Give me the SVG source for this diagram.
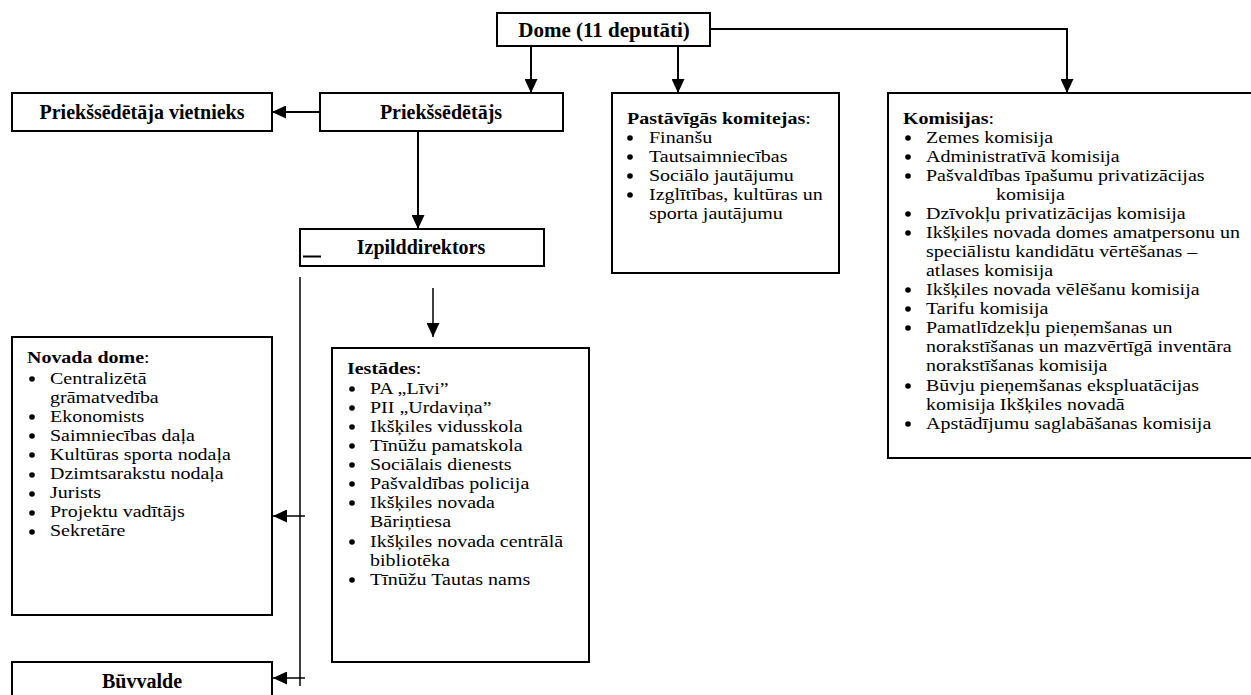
<svg xmlns="http://www.w3.org/2000/svg" width="1251" height="695" viewBox="0 0 1251 695">
<style>
.box{fill:#fff;stroke:#000;stroke-width:2}
.t{font-family:"Liberation Serif","Times New Roman",serif;font-size:20px;fill:#000}
.s{font-family:"Liberation Serif","Times New Roman",serif;font-size:17px;fill:#000}
.b{font-weight:bold}
.c{text-anchor:middle}
.conn{stroke:#000;stroke-width:2;fill:none}
.thin{stroke:#000;stroke-width:1.5;fill:none}
</style>
<defs>
<marker id="ah" markerUnits="userSpaceOnUse" markerWidth="14" markerHeight="13" refX="14" refY="6.5" orient="auto">
<path d="M0,0 L14,6.5 L0,13 z" fill="#000"/>
</marker>
<g id="bul"><circle r="2.8" fill="#000"/></g>
</defs>
<rect width="1251" height="695" fill="#fff"/>

<g id="connectors">
<line class="conn" x1="531" y1="46" x2="531" y2="93" marker-end="url(#ah)"/>
<line class="conn" x1="678" y1="46" x2="678" y2="93" marker-end="url(#ah)"/>
<polyline class="conn" points="710,29 1067,29 1067,93" marker-end="url(#ah)"/>
<line class="conn" x1="320" y1="112" x2="272" y2="112" marker-end="url(#ah)"/>
<line class="conn" x1="418" y1="131" x2="418" y2="229" marker-end="url(#ah)"/>
<line class="thin" x1="433" y1="288" x2="433" y2="337" marker-end="url(#ah)"/>
<line class="thin" x1="300" y1="277" x2="300" y2="686"/>
<line class="thin" x1="305" y1="516" x2="273" y2="516" marker-end="url(#ah)"/>
<line class="thin" x1="305" y1="678" x2="273" y2="678" marker-end="url(#ah)"/>
</g>

<g id="dome">
<rect class="box" x="497" y="13" width="213" height="33"/>
<text class="t b c" x="604" y="37" style="font-size:21px">Dome (11 deputāti)</text>
</g>

<g id="vietnieks">
<rect class="box" x="12" y="93" width="260" height="38"/>
<text class="t b c" x="142" y="119">Priekšsēdētāja vietnieks</text>
</g>

<g id="priekssedetajs">
<rect class="box" x="320" y="93" width="243" height="38"/>
<text class="t b c" x="441" y="119">Priekšsēdētājs</text>
</g>

<g id="pastavigas">
<rect class="box" x="612" y="93" width="227" height="180"/>
<use href="#bul" x="630" y="138"/>
<use href="#bul" x="630" y="157"/>
<use href="#bul" x="630" y="176"/>
<use href="#bul" x="630" y="195"/>
<g transform="translate(649,0) scale(1.176,1)">
<text class="s" x="-18.7" y="124"><tspan class="b">Pastāvīgās komitejas</tspan>:</text>
<text class="s" x="0" y="143">Finanšu</text>
<text class="s" x="0" y="162">Tautsaimniecības</text>
<text class="s" x="0" y="181">Sociālo jautājumu</text>
<text class="s" x="0" y="200">Izglītības, kultūras un</text>
<text class="s" x="0" y="219">sporta jautājumu</text>
</g>
</g>

<g id="komisijas">
<rect class="box" x="888" y="93" width="366" height="365"/>
<use href="#bul" x="908" y="138"/>
<use href="#bul" x="908" y="157"/>
<use href="#bul" x="908" y="176"/>
<use href="#bul" x="908" y="214"/>
<use href="#bul" x="908" y="233"/>
<use href="#bul" x="908" y="290"/>
<use href="#bul" x="908" y="309"/>
<use href="#bul" x="908" y="328"/>
<use href="#bul" x="908" y="386"/>
<use href="#bul" x="908" y="424"/>
<g transform="translate(926,0) scale(1.176,1)">
<text class="s" x="-19.6" y="124"><tspan class="b">Komisijas</tspan>:</text>
<text class="s" x="0" y="143">Zemes komisija</text>
<text class="s" x="0" y="162">Administratīvā komisija</text>
<text class="s" x="0" y="181">Pašvaldības īpašumu privatizācijas</text>
<text class="s" x="59.5" y="200">komisija</text>
<text class="s" x="0" y="219">Dzīvokļu privatizācijas komisija</text>
<text class="s" x="0" y="238">Ikšķiles novada domes amatpersonu un</text>
<text class="s" x="0" y="257">speciālistu kandidātu vērtēšanas –</text>
<text class="s" x="0" y="276">atlases komisija</text>
<text class="s" x="0" y="295">Ikšķiles novada vēlēšanu komisija</text>
<text class="s" x="0" y="314">Tarifu komisija</text>
<text class="s" x="0" y="333">Pamatlīdzekļu pieņemšanas un</text>
<text class="s" x="0" y="352">norakstīšanas un mazvērtīgā inventāra</text>
<text class="s" x="0" y="371">norakstīšanas komisija</text>
<text class="s" x="0" y="391">Būvju pieņemšanas ekspluatācijas</text>
<text class="s" x="0" y="410">komisija Ikšķiles novadā</text>
<text class="s" x="0" y="429">Apstādījumu saglabāšanas komisija</text>
</g>
</g>

<g id="izpilddirektors">
<rect class="box" x="300" y="229" width="244" height="37"/>
<line x1="303" y1="256.5" x2="321" y2="256.5" stroke="#000" stroke-width="2"/>
<text class="t b c" x="421" y="254">Izpilddirektors</text>
</g>

<g id="novada-dome">
<rect class="box" x="12" y="337" width="260" height="278"/>
<use href="#bul" x="32" y="379"/>
<use href="#bul" x="32" y="417"/>
<use href="#bul" x="32" y="436"/>
<use href="#bul" x="32" y="455"/>
<use href="#bul" x="32" y="475"/>
<use href="#bul" x="32" y="494"/>
<use href="#bul" x="32" y="513"/>
<use href="#bul" x="32" y="532"/>
<g transform="translate(50,0) scale(1.176,1)">
<text class="s" x="-19.6" y="363"><tspan class="b">Novada dome</tspan>:</text>
<text class="s" x="0" y="384">Centralizētā</text>
<text class="s" x="0" y="403">grāmatvedība</text>
<text class="s" x="0" y="422">Ekonomists</text>
<text class="s" x="0" y="441">Saimniecības daļa</text>
<text class="s" x="0" y="460">Kultūras sporta nodaļa</text>
<text class="s" x="0" y="479">Dzimtsarakstu nodaļa</text>
<text class="s" x="0" y="498">Jurists</text>
<text class="s" x="0" y="517">Projektu vadītājs</text>
<text class="s" x="0" y="536">Sekretāre</text>
</g>
</g>

<g id="iestades">
<rect class="box" x="332" y="348" width="257" height="314"/>
<use href="#bul" x="352" y="389"/>
<use href="#bul" x="352" y="408"/>
<use href="#bul" x="352" y="427"/>
<use href="#bul" x="352" y="446"/>
<use href="#bul" x="352" y="465"/>
<use href="#bul" x="352" y="484"/>
<use href="#bul" x="352" y="503"/>
<use href="#bul" x="352" y="542"/>
<use href="#bul" x="352" y="580"/>
<g transform="translate(370,0) scale(1.176,1)">
<text class="s" x="-19.6" y="374"><tspan class="b">Iestādes</tspan>:</text>
<text class="s" x="0" y="394">PA „Līvi”</text>
<text class="s" x="0" y="413">PII „Urdaviņa”</text>
<text class="s" x="0" y="432">Ikšķiles vidusskola</text>
<text class="s" x="0" y="451">Tīnūžu pamatskola</text>
<text class="s" x="0" y="470">Sociālais dienests</text>
<text class="s" x="0" y="489">Pašvaldības policija</text>
<text class="s" x="0" y="508">Ikšķiles novada</text>
<text class="s" x="0" y="527">Bāriņtiesa</text>
<text class="s" x="0" y="547">Ikšķiles novada centrālā</text>
<text class="s" x="0" y="566">bibliotēka</text>
<text class="s" x="0" y="585">Tīnūžu Tautas nams</text>
</g>
</g>

<g id="buvvalde">
<rect class="box" x="12" y="662" width="260" height="40"/>
<text class="t b c" x="142" y="688">Būvvalde</text>
</g>
</svg>
